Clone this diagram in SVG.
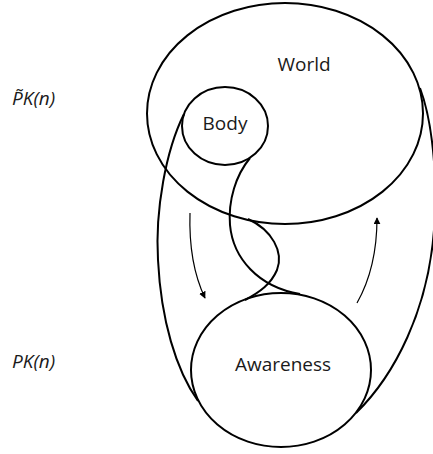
<svg xmlns="http://www.w3.org/2000/svg" width="433" height="454" viewBox="0 0 433 454">
<style>
.shape{fill:none;stroke:#000;stroke-width:2}
.conn{fill:none;stroke:#000;stroke-width:2}
.arr{fill:none;stroke:#000;stroke-width:1.2}
.lbl{font-family:"Open Sans","DejaVu Sans",sans-serif;font-size:19px;fill:#1a1a1a;text-anchor:middle}
.side{font-family:"Open Sans","DejaVu Sans",sans-serif;font-size:19px;font-style:italic;fill:#1a1a1a}
</style>
<defs>
<marker id="ah" viewBox="0 0 10 10" refX="9" refY="5" markerWidth="7" markerHeight="7" markerUnits="userSpaceOnUse" orient="auto">
<path d="M0,0 L10,5 L0,10 Z" fill="#000"/>
</marker>
</defs>
<rect width="433" height="454" fill="#fff"/>
<g id="world">
<ellipse class="shape" cx="285" cy="113.5" rx="138" ry="110.5"/>
<text class="lbl" x="304" y="71">World</text>
</g>
<g id="body">
<ellipse class="shape" cx="225" cy="126" rx="43" ry="39"/>
<text class="lbl" x="225" y="130">Body</text>
</g>
<g id="awareness">
<ellipse class="shape" cx="281" cy="370" rx="90" ry="77"/>
<text class="lbl" x="283" y="371">Awareness</text>
</g>
<g id="connectors">
<path class="conn" d="M184,114 C166,150 155,210 158,260 C161,320 176,370 198,401"/>
<path class="conn" d="M356,413 C395,375 428,310 434,230 C438,175 432,120 420,88"/>
<path class="conn" d="M250,158 C236,175 228,200 230,225 C233,258 258,287 300,294"/>
<path class="conn" d="M248,219 C272,230 284,252 277,270 C271,284 260,292 245,300"/>
<path class="arr" marker-end="url(#ah)" d="M190,213 C189,245 194,275 205,298"/>
<path class="arr" marker-end="url(#ah)" d="M357,303 C370,280 377,250 377,218"/>
</g>
<g id="labels">
<text class="side" x="12" y="105">P&#771;K(n)</text>
<text class="side" x="12" y="368">PK(n)</text>
</g>
</svg>
